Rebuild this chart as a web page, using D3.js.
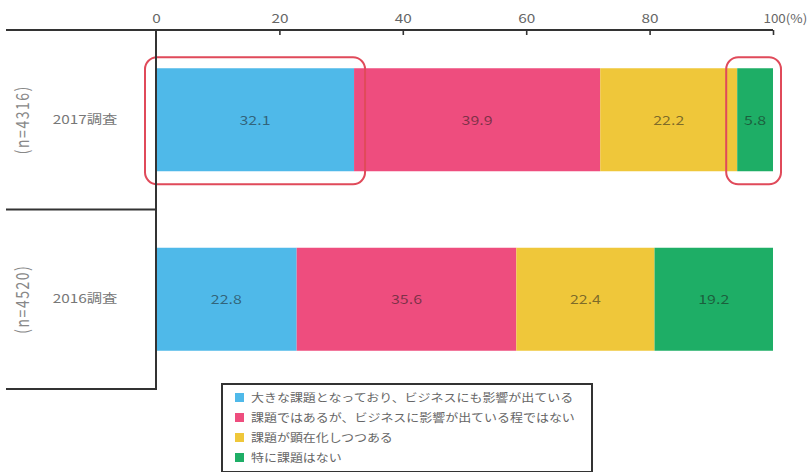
<!DOCTYPE html>
<html>
<head>
<meta charset="utf-8">
<script src="https://cdn.jsdelivr.net/npm/d3@7"></script>
<style>
  html, body { margin: 0; padding: 0; background: #fff; }
  svg { display: block; font-family: "Noto Sans CJK JP", "Noto Sans", sans-serif; }
</style>
</head>
<body>
<svg id="chart" width="810" height="472"></svg>
<script>
// Survey rows
const rows = ["2017調査", "2016調査"];
const sampleSizes = ["(n=4316)", "(n=4520)"];

// Answer categories
const categories = [
  "大きな課題となっており、ビジネスにも影響が出ている",
  "課題ではあるが、ビジネスに影響が出ている程ではない",
  "課題が顕在化しつつある",
  "特に課題はない"
];
const colors = ["#4fb9e9", "#ee4d7e", "#efc73a", "#1eae66"];

// Share of respondents (%) per row, in category order
const values2017 = [32.1, 39.9, 22.2, 5.8];
const values2016 = [22.8, 35.6, 22.4, 19.2];
const seriesValues = [values2017, values2016];

// Axis ticks
const tickValues = [0, 20, 40, 60, 80, 100];

// Highlighted segments in the 2017 row (category indices)
const highlighted = [0, 3];

const svg = d3.select("#chart");
const stretch = 1.28; // horizontal text stretch used throughout

const x = d3.scaleLinear().domain([0, 100]).range([156, 773]);
const y = d3.scaleBand().domain(rows).range([30, 389]);
const barH = 103;
const axisY = 30;
const leftEdge = 6;

// Stacked segments
const stacked = rows.map((r, i) => {
  let acc = 0;
  return seriesValues[i].map((v, k) => {
    const seg = { row: r, k, v, x0: acc, x1: acc + v };
    acc += v;
    return seg;
  });
});

const rowG = svg.selectAll("g.row").data(stacked).join("g").attr("class", "row");

rowG.selectAll("rect").data(d => d).join("rect")
  .attr("x", d => x(d.x0))
  .attr("width", d => x(d.x1) - x(d.x0))
  .attr("y", d => y(d.row) + (y.bandwidth() - barH) / 2)
  .attr("height", barH)
  .attr("fill", d => colors[d.k]);

function stretchedText(sel, fx, fy, s) {
  return sel.attr("transform", d => `translate(${fx(d)},${fy(d)}) scale(${s},1)`);
}

rowG.selectAll("text.val").data(d => d).join("text")
  .attr("class", "val")
  .call(stretchedText, d => x((d.x0 + d.x1) / 2), d => y(d.row) + y.bandwidth() / 2 + 5, stretch)
  .attr("text-anchor", "middle")
  .attr("font-size", 12.5)
  .attr("fill", "#1a1a1a")
  .attr("fill-opacity", 0.55)
  .text(d => d.v.toFixed(1));

// Highlight boxes around chosen 2017 segments
const first = stacked[0];
svg.selectAll("rect.hl").data(highlighted.map(k => first[k])).join("rect")
  .attr("class", "hl")
  .attr("x", d => x(d.x0) - 11)
  .attr("width", d => x(d.x1) - x(d.x0) + (d.k === 3 ? 19 : 22))
  .attr("y", y(rows[0]) + (y.bandwidth() - barH) / 2 - 11)
  .attr("height", barH + 24)
  .attr("rx", 12)
  .attr("fill", "none")
  .attr("stroke", "#e04a5a")
  .attr("stroke-width", 2);

// Top axis
const axis = d3.axisTop(x).tickValues(tickValues).tickSizeInner(-5).tickSizeOuter(0).tickPadding(7)
  .tickFormat(d => d);
const axG = svg.append("g").attr("transform", `translate(0,${axisY})`).call(axis);
axG.select(".domain").remove();
axG.selectAll(".tick line").attr("stroke", "#333").attr("stroke-width", 1.6)
  .filter(d => d === 0).remove();
axG.selectAll(".tick text")
  .attr("font-family", "\"Noto Sans CJK JP\", sans-serif")
  .attr("font-size", 12).attr("fill", "#666")
  .attr("transform", `scale(${stretch},1)`)
  .attr("x", 0)
  .each(function(d) {
    const t = d3.select(this);
    if (d === 100) {
      t.attr("text-anchor", "start").attr("x", -9)
        .attr("transform", "scale(1.12,1)").text("100(%)");
    }
  });

svg.append("line")
  .attr("x1", leftEdge).attr("x2", x(100))
  .attr("y1", axisY).attr("y2", axisY)
  .attr("stroke", "#333").attr("stroke-width", 2);

// Vertical baseline and row separators
const bottom = y.range()[1];
svg.append("line")
  .attr("x1", x(0)).attr("x2", x(0))
  .attr("y1", axisY).attr("y2", bottom)
  .attr("stroke", "#333").attr("stroke-width", 2);

svg.selectAll("line.sep").data(rows).join("line")
  .attr("class", "sep")
  .attr("x1", leftEdge).attr("x2", x(0) + 1)
  .attr("y1", d => y(d) + y.bandwidth()).attr("y2", d => y(d) + y.bandwidth())
  .attr("stroke", "#333").attr("stroke-width", 2);

// Row labels
svg.selectAll("text.rowlab").data(rows).join("text")
  .attr("class", "rowlab")
  .call(stretchedText, () => 85, d => y(d) + y.bandwidth() / 2 + 4, stretch)
  .attr("text-anchor", "middle")
  .attr("font-size", 12)
  .attr("fill", "#777")
  .text(d => d);

svg.selectAll("text.nlab").data(rows).join("text")
  .attr("class", "nlab")
  .attr("transform", (d, i) => `translate(29,${y(d) + y.bandwidth() / 2}) scale(${stretch},1) rotate(-90)`)
  .attr("text-anchor", "middle")
  .attr("font-size", 14)
  .attr("letter-spacing", 1.5)
  .attr("fill", "#888")
  .text((d, i) => sampleSizes[i]);

// Legend
const lg = svg.append("g").attr("transform", "translate(222,384)");
lg.append("rect")
  .attr("x", 0).attr("y", 0).attr("width", 370).attr("height", 88)
  .attr("fill", "#fff").attr("stroke", "#333").attr("stroke-width", 2);

const item = lg.selectAll("g.item").data(categories).join("g")
  .attr("class", "item")
  .attr("transform", (d, i) => `translate(13,${14 + i * 20})`);
item.append("rect")
  .attr("x", 0).attr("y", -5).attr("width", 9).attr("height", 9)
  .attr("fill", (d, i) => colors[i]);
item.append("text")
  .attr("transform", `translate(16,4) scale(1.18,1)`)
  .attr("font-size", 11)
  .attr("fill", "#666")
  .text(d => d);
</script>
</body>
</html>
